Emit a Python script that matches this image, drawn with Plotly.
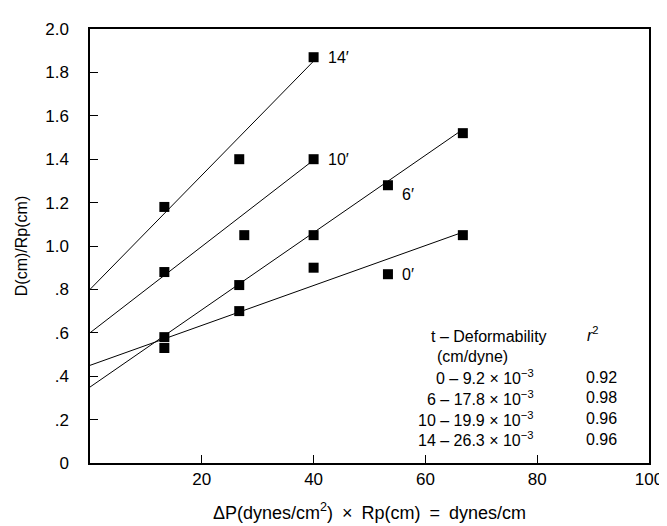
import plotly.graph_objects as go

# Data
series_names = ["0′", "6′", "10′", "14′"]
x_0 = [13.3, 26.7, 40.0, 53.3, 66.7]
y_0 = [0.53, 0.70, 0.90, 0.87, 1.05]
x_6 = [13.3, 26.7, 40.0, 53.3, 66.7]
y_6 = [0.58, 0.82, 1.05, 1.28, 1.52]
x_10 = [13.3, 27.6, 40.0]
y_10 = [0.88, 1.05, 1.40]
x_14 = [13.3, 26.7, 40.0]
y_14 = [1.18, 1.40, 1.87]

# fitted lines: intercept at x=0 and slope (deformability)
intercepts = [0.45, 0.35, 0.60, 0.80]
slopes = [9.2e-3, 17.8e-3, 19.9e-3, 26.3e-3]
line_end_x = [66.7, 66.7, 40.0, 40.0]

table_t = ["0", "6", "10", "14"]
table_def = ["9.2", "17.8", "19.9", "26.3"]
table_r2 = ["0.92", "0.98", "0.96", "0.96"]

y_tickvals = [0, 0.2, 0.4, 0.6, 0.8, 1.0, 1.2, 1.4, 1.6, 1.8, 2.0]
y_ticktext = ["0", ".2", ".4", ".6", ".8", "1.0", "1.2", "1.4", "1.6", "1.8", "2.0"]
x_tickvals = [20, 40, 60, 80, 100]
x_ticktext = ["20", "40", "60", "80", "100"]

FONT = "Liberation Sans, Arial, Helvetica, sans-serif"
FS = 16

fig = go.Figure()
xs = [x_0, x_6, x_10, x_14]
ys = [y_0, y_6, y_10, y_14]
for i in range(4):
    x_end = line_end_x[i]
    fig.add_trace(go.Scatter(
        x=[0, x_end], y=[intercepts[i], intercepts[i] + slopes[i] * x_end],
        mode="lines", line=dict(color="black", width=1), showlegend=False,
        hoverinfo="skip"))
for i in range(4):
    fig.add_trace(go.Scatter(
        x=xs[i], y=ys[i], mode="markers", name=series_names[i],
        marker=dict(symbol="square", size=10, color="black"), showlegend=False))

# series labels
label_pos = [(x_0[3], y_0[3], 12, 0), (x_6[3], y_6[3], 12, -9),
             (x_10[2], y_10[2], 12, 0), (x_14[2], y_14[2], 12, 0)]
for name, (lx, ly, dx, dy) in zip(series_names, label_pos):
    fig.add_annotation(x=lx, y=ly, text=name, showarrow=False, xanchor="left",
                       xshift=dx, yshift=dy, font=dict(size=FS, color="black", family=FONT))

# table
fig.add_annotation(x=0.606, y=0.292, xref="paper", yref="paper", text="t – Deformability",
                   showarrow=False, xanchor="left", yanchor="middle",
                   font=dict(size=FS, color="black", family=FONT))
fig.add_annotation(x=0.617, y=0.246, xref="paper", yref="paper", text="(cm/dyne)",
                   showarrow=False, xanchor="left", yanchor="middle",
                   font=dict(size=FS, color="black", family=FONT))
fig.add_annotation(x=0.886, y=0.298, xref="paper", yref="paper", text="<i>r</i><sup>2</sup>",
                   showarrow=False, xanchor="left", yanchor="middle",
                   font=dict(size=FS, color="black", family=FONT))
row_y = [0.198, 0.150, 0.1025, 0.055]
for t, d, r2, yy in zip(table_t, table_def, table_r2, row_y):
    fig.add_annotation(x=0.798, y=yy, xref="paper", yref="paper",
                       text=f"{t} – {d} × 10<sup>−3</sup>", showarrow=False, xanchor="right",
                       yanchor="middle", font=dict(size=FS, color="black", family=FONT))
    fig.add_annotation(x=0.947, y=yy, xref="paper", yref="paper", text=r2,
                       showarrow=False, xanchor="right", yanchor="middle",
                       font=dict(size=FS, color="black", family=FONT))

fig.update_layout(
    width=667, height=526,
    margin=dict(l=81, r=17, t=16, b=71),
    paper_bgcolor="white", plot_bgcolor="white",
    font=dict(family=FONT, size=FS, color="black"),
    showlegend=False,
)
fig.update_xaxes(range=[0, 100], tickvals=x_tickvals, ticktext=x_ticktext,
                 ticks="inside", ticklen=8, tickwidth=1, tickcolor="black",
                 showline=True, linecolor="black", linewidth=1.5, mirror=True,
                 showgrid=False, zeroline=False, ticklabelstandoff=0,
                 title=dict(text="ΔP(dynes/cm<sup>2</sup>)\u2002×\u2002Rp(cm)\u2002=\u2002dynes/cm",
                            font=dict(size=18), standoff=18),
                 tickfont=dict(size=17))
fig.update_yaxes(range=[0, 2.0], tickvals=y_tickvals, ticktext=y_ticktext,
                 ticks="inside", ticklen=8, tickwidth=1, tickcolor="black",
                 showline=True, linecolor="black", linewidth=1.5, mirror=True,
                 showgrid=False, zeroline=False, ticklabelstandoff=16,
                 title=dict(text="D(cm)/Rp(cm)", font=dict(size=16), standoff=14),
                 tickfont=dict(size=17))

fig.write_html("out.html")
